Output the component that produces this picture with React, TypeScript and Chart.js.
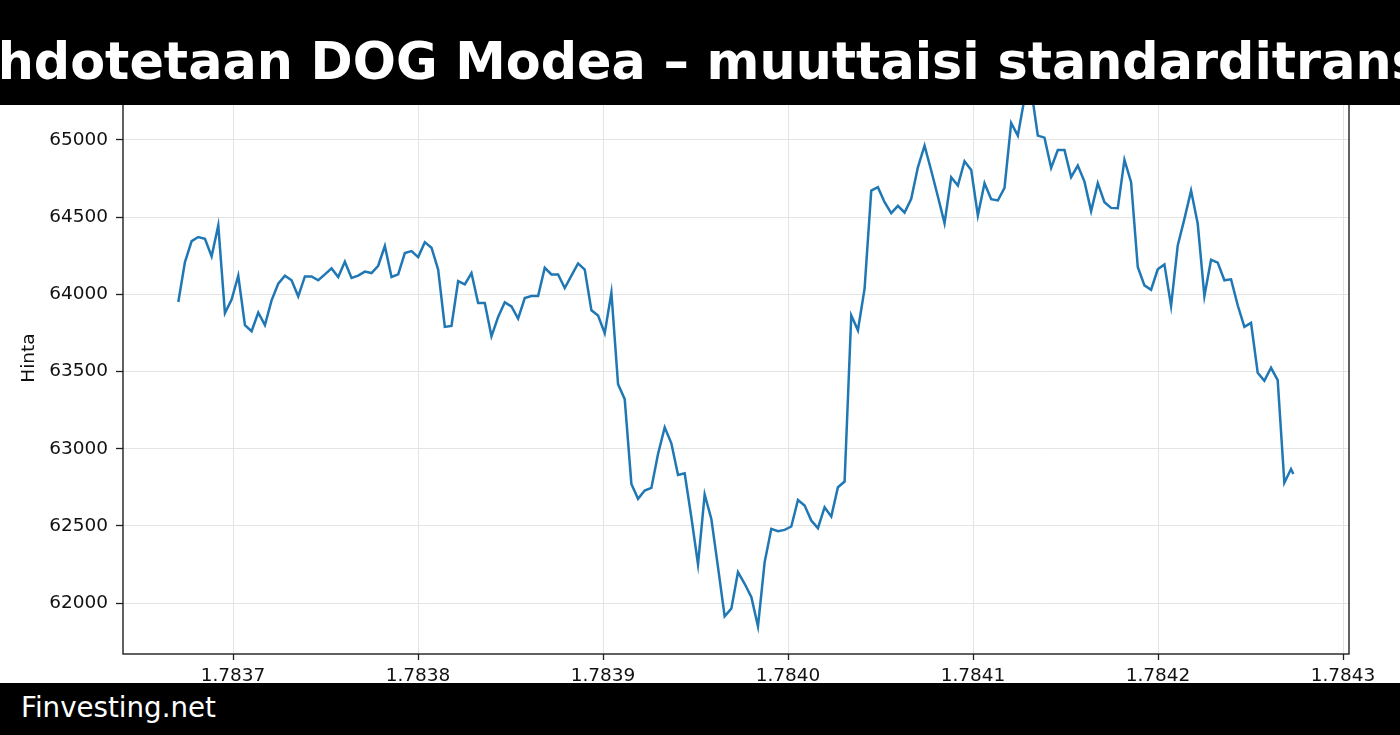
import { useEffect, useRef } from "react";
import { Chart, registerables } from "chart.js";

Chart.register(...registerables);

const TITLE = "Ehdotetaan DOG Modea – muuttaisi standarditransaktiot";
const FOOTER = "Finvesting.net";
const Y_LABEL = "Hinta";

// Price readings, evenly spaced in time (last sample arrives early)
const PRICES = [
  63950, 64209, 64345, 64371, 64360, 64246, 64446, 63879, 63966, 64121,
  63800, 63761, 63882, 63800, 63961, 64069, 64121, 64091, 63987, 64116,
  64116, 64091, 64129, 64168, 64112, 64211, 64106, 64121, 64147, 64138,
  64185, 64313, 64112, 64129, 64267, 64280, 64241, 64338, 64302, 64160,
  63789, 63795, 64086, 64065, 64138, 63944, 63944, 63728, 63853, 63948,
  63922, 63843, 63976, 63989, 63989, 64172, 64129, 64129, 64041, 64121,
  64200, 64160, 63897, 63862, 63748, 64011, 63418, 63321, 62772, 62675,
  62729, 62746, 62966, 63138, 63035, 62830, 62841, 62556, 62250, 62703,
  62545, 62233, 61914, 61964, 62201, 62125, 62039, 61849, 62265, 62481,
  62466, 62474, 62496, 62668, 62632, 62535, 62485, 62621, 62560, 62750,
  62787, 63864, 63767, 64037, 64672, 64694, 64597, 64526, 64573, 64530,
  64619, 64823, 64963, 64802, 64634, 64461, 64759, 64705, 64862, 64806,
  64511, 64720, 64616, 64608, 64690, 65110, 65028, 65270, 65330, 65028,
  65015, 64819, 64935, 64935, 64759, 64834, 64730, 64539, 64720, 64597,
  64560, 64558, 64871, 64726, 64177, 64058, 64030, 64162, 64194, 63925,
  64317, 64489, 64672, 64457, 63989, 64224, 64205, 64091, 64097, 63929,
  63789, 63815, 63492, 63440, 63524, 63444, 62779, 62868, 62836,
];

const X_START = 1.78367043;
const X_STEP = 0.0000036016;
const X_LAST = 1.78427314;

const X_MIN = 1.78364054;
const X_MAX = 1.78430324;
const X_TICKS = [1.7837, 1.7838, 1.7839, 1.784, 1.7841, 1.7842, 1.7843];
const Y_MIN = 61670;
const Y_MAX = 65505;
const Y_TICKS = [62000, 62500, 63000, 63500, 64000, 64500, 65000, 65500];

const FONT = "'DejaVu Sans', sans-serif";

export default function App() {
  const ref = useRef<HTMLCanvasElement>(null);

  useEffect(() => {
    document.body.style.margin = "0";
    const canvas = ref.current;
    if (!canvas) return;
    const points = PRICES.map((y, i) => ({
      x: i === PRICES.length - 1 ? X_LAST : X_START + i * X_STEP,
      y,
    }));
    const frame = {
      id: "frame",
      afterDraw(chart: any) {
        const { ctx, chartArea } = chart;
        ctx.save();
        ctx.strokeStyle = "#1f1f1f";
        ctx.lineWidth = 1.4;
        ctx.strokeRect(
          chartArea.left,
          chartArea.top,
          chartArea.right - chartArea.left,
          chartArea.bottom - chartArea.top
        );
        ctx.restore();
      },
    };
    const tickFont = { family: FONT, size: 18.5 };
    const chart = new Chart(canvas, {
      type: "line",
      data: {
        datasets: [
          {
            data: points,
            borderColor: "#1f77b4",
            borderWidth: 2.5,
            pointRadius: 0,
            tension: 0,
            fill: false,
          },
        ],
      },
      options: {
        animation: false,
        responsive: false,
        devicePixelRatio: 1,
        layout: { padding: { left: 0, right: 51, top: 62, bottom: 0 } },
        plugins: { legend: { display: false }, tooltip: { enabled: false } },
        scales: {
          x: {
            type: "linear",
            min: X_MIN,
            max: X_MAX,
            afterBuildTicks: (s: any) => {
              s.ticks = X_TICKS.map((value) => ({ value }));
            },
            afterFit: (s: any) => {
              s.height = 81;
              s.paddingLeft = 0;
              s.paddingRight = 0;
            },
            grid: {
              color: "#e4e4e4",
              lineWidth: 1,
              tickColor: "#1f1f1f",
              tickLength: 6,
              tickWidth: 1.3,
            },
            border: { display: false },
            ticks: {
              padding: 5,
              color: "#111111",
              font: tickFont,
              maxRotation: 0,
              autoSkip: false,
              callback: (v: any) => Number(v).toFixed(4),
            },
          },
          y: {
            type: "linear",
            min: Y_MIN,
            max: Y_MAX,
            afterBuildTicks: (s: any) => {
              s.ticks = Y_TICKS.map((value) => ({ value }));
            },
            afterFit: (s: any) => {
              s.width = 123;
              s.paddingTop = 0;
              s.paddingBottom = 0;
            },
            title: {
              display: true,
              text: Y_LABEL,
              color: "#111111",
              font: { family: FONT, size: 18.5 },
              padding: { top: 18, bottom: 0 },
            },
            grid: {
              color: "#e4e4e4",
              lineWidth: 1,
              tickColor: "#1f1f1f",
              tickLength: 7,
              tickWidth: 1.3,
            },
            border: { display: false },
            ticks: {
              padding: 8,
              color: "#111111",
              font: tickFont,
              autoSkip: false,
              callback: (v: any) => String(Math.round(Number(v))),
            },
          },
        },
      },
      plugins: [frame],
    });
    return () => chart.destroy();
  }, []);

  return (
    <div
      style={{
        position: "fixed",
        left: 0,
        top: 0,
        width: 1400,
        height: 735,
        background: "#ffffff",
        overflow: "hidden",
      }}
    >
      <canvas
        ref={ref}
        width={1400}
        height={735}
        style={{ position: "absolute", left: 0, top: 0, width: 1400, height: 735 }}
      />
      <div
        style={{
          position: "absolute",
          left: 0,
          top: 0,
          width: 1400,
          height: 105,
          background: "#000",
          overflow: "hidden",
          zIndex: 2,
        }}
      >
        <span
          style={{
            position: "absolute",
            left: -37,
            top: 32,
            whiteSpace: "nowrap",
            color: "#fff",
            fontFamily: FONT,
            fontWeight: "bold",
            fontSize: 50.8,
            lineHeight: "normal",
          }}
        >
          {TITLE}
        </span>
      </div>
      <div
        style={{
          position: "absolute",
          left: 0,
          top: 683,
          width: 1400,
          height: 52,
          background: "#000",
          overflow: "hidden",
          zIndex: 2,
        }}
      >
        <span
          style={{
            position: "absolute",
            left: 21,
            top: 8,
            whiteSpace: "nowrap",
            color: "#fff",
            fontFamily: FONT,
            fontSize: 27.7,
            lineHeight: "normal",
          }}
        >
          {FOOTER}
        </span>
      </div>
    </div>
  );
}
